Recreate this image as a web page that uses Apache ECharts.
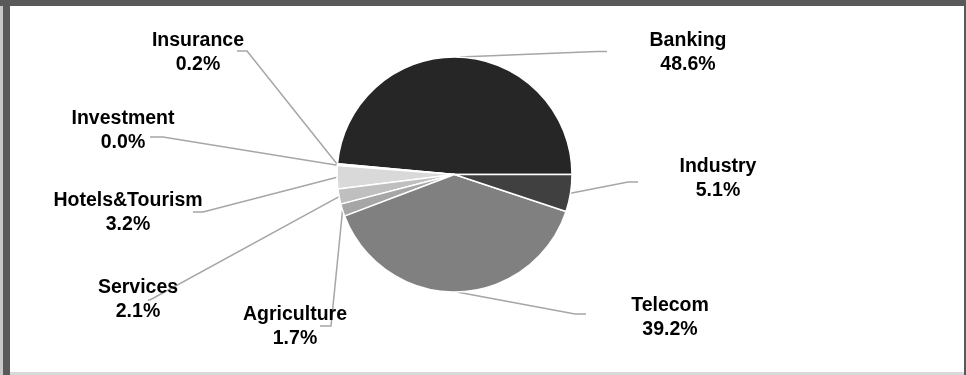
<!DOCTYPE html>
<html>
<head>
<meta charset="utf-8">
<script src="https://cdn.jsdelivr.net/npm/echarts@6/dist/echarts.min.js"></script>
<style>
html,body{margin:0;padding:0;background:#fff;}
#wrap{position:relative;width:966px;height:375px;overflow:hidden;}
#chart{position:absolute;left:0;top:0;width:966px;height:375px;}
.b{position:absolute;pointer-events:none;}
</style>
</head>
<body>
<div id="wrap">
<div id="chart"></div>
<div class="b" style="left:0;top:0;width:3px;height:375px;background:#c8c8c8"></div>
<div class="b" style="left:3px;top:0;width:7px;height:375px;background:#595959"></div>
<div class="b" style="left:0;top:0;width:966px;height:6px;background:#595959"></div>
<div class="b" style="left:964px;top:0;width:2px;height:375px;background:#595959"></div>
<div class="b" style="left:10px;top:372px;width:954px;height:3px;background:#d9d9d9"></div>
</div>
<script>
// Data
const categories = ['Banking','Insurance','Investment','Hotels&Tourism','Services','Agriculture','Telecom','Industry'];
const shares = [48.6, 0.2, 0.03, 3.2, 2.1, 1.7, 39.2, 5.1];
const sliceColors = ['#262626','#f2f2f2','#e6e6e6','#d9d9d9','#bfbfbf','#a6a6a6','#808080','#404040'];

// label placement (text block centre and leader elbow)
const labelPos = [
  {x:688, y:52.5, elbow:[[597,51.5],[607,51.5]]},
  {x:198, y:52.5, elbow:[[247,51],[237,51]]},
  {x:123, y:131, elbow:[[163,137],[150,137]]},
  {x:128, y:213, elbow:[[203,212],[193,212]]},
  {x:138, y:300, elbow:[[150,300],[148,300]]},
  {x:295, y:326.5, elbow:[[331,326],[320,326]]},
  {x:670, y:317.5, elbow:[[575,314],[586,314]]},
  {x:718, y:178.5, elbow:[[628,182],[638,182]]}
];

const chart = echarts.init(document.getElementById('chart'), null, {renderer:'canvas'});
const cx = 454.5, cy = 174.5, R = 117.5;
chart.setOption({
  backgroundColor:'#ffffff',
  animation:false,
  series:[{
    type:'pie',
    center:[cx, cy],
    radius:[0, R],
    startAngle:0,
    clockwise:false,
    avoidLabelOverlap:false,
    minAngle:0,
    data: categories.map((c,i)=>({name:c, value:shares[i], itemStyle:{color:sliceColors[i]}})),
    itemStyle:{borderColor:'#ffffff', borderWidth:1.5},
    label:{
      show:true,
      formatter:(p)=> p.name + '\n' + p.value.toFixed(1) + '%',
      fontFamily:'"Liberation Sans", Arial, sans-serif',
      fontWeight:'bold',
      fontSize:19.5,
      lineHeight:24,
      color:'#000',
      align:'center'
    },
    labelLine:{show:true, lineStyle:{color:'#a6a6a6', width:1.5}, length:10, length2:10},
    labelLayout:(params)=>{
      const i = params.dataIndex;
      const L = labelPos[i];
      let start = params.labelLinePoints ? params.labelLinePoints[0] : [cx, cy];
      return {
        x:L.x, y:L.y, align:'center', verticalAlign:'middle',
        labelLinePoints:[start, L.elbow[0], L.elbow[1]]
      };
    },
    emphasis:{disabled:true}
  }]
});
</script>
</body>
</html>
